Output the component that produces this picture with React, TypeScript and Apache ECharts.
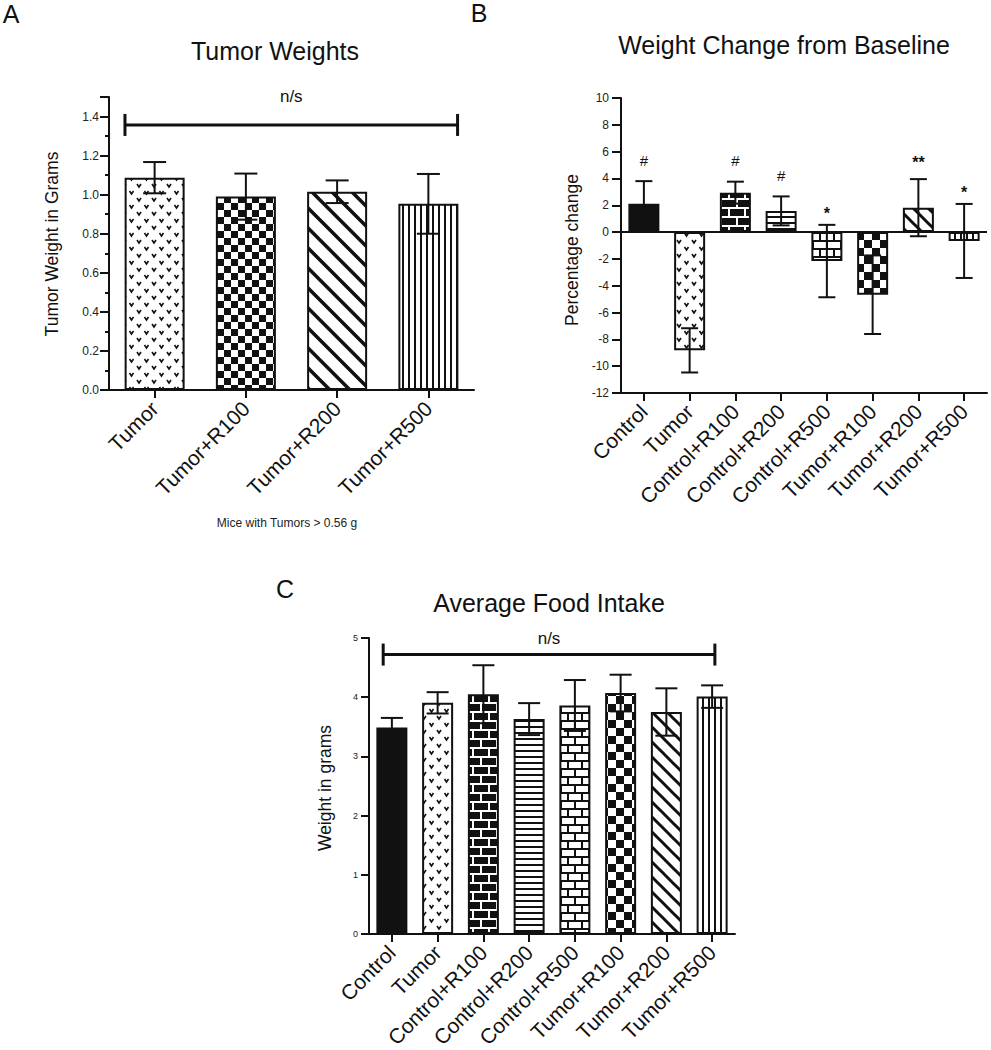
import React, { useEffect, useRef } from 'react';
import * as echarts from 'echarts';

const FONT = '"Liberation Sans", Arial, Helvetica, sans-serif';
const INK = '#111111';

// ---------- Panel A: Tumor Weights ----------
const catsA = ['Tumor', 'Tumor+R100', 'Tumor+R200', 'Tumor+R500'];
const meanA = [1.087, 0.99, 1.015, 0.953];
const semA = [0.08, 0.118, 0.058, 0.153];
const yTicksA = { min: 0, max: 1.5, major: 0.2, minor: 0.1 };

// ---------- Panel B: Weight Change from Baseline ----------
const catsBC = ['Control', 'Tumor', 'Control+R100', 'Control+R200', 'Control+R500', 'Tumor+R100', 'Tumor+R200', 'Tumor+R500'];
const meanB = [2.12, -8.82, 2.94, 1.58, -2.16, -4.67, 1.82, -0.66];
const semB = [1.68, 1.65, 0.82, 1.08, 2.7, 2.93, 2.13, 2.76];
const sigB = ['#', '', '#', '#', '*', '', '**', '*'];
const yTicksB = { min: -12, max: 10, interval: 2 };

// ---------- Panel C: Average Food Intake ----------
const meanC = [3.49, 3.905, 4.05, 3.63, 3.86, 4.07, 3.75, 4.01];
const semC = [0.16, 0.18, 0.49, 0.27, 0.43, 0.31, 0.4, 0.19];
const yTicksC = { min: 0, max: 5, interval: 1 };

// n/s bracket heights (data units)
const bracketA = 1.357;
const bracketC = 4.72;

type Pat = { image: string; repeat: string; imageWidth: number; imageHeight: number };

function tile(w: number, h: number, bg: string, draw: (ctx: CanvasRenderingContext2D) => void): Pat {
  const c = document.createElement('canvas');
  c.width = w;
  c.height = h;
  const ctx = c.getContext('2d')!;
  ctx.fillStyle = bg;
  ctx.fillRect(0, 0, w, h);
  draw(ctx);
  return { image: c.toDataURL(), repeat: 'repeat', imageWidth: w, imageHeight: h };
}

function makePatterns() {
  const vmark = (ctx: CanvasRenderingContext2D, x: number, y: number) => {
    ctx.beginPath();
    ctx.moveTo(x - 2, y - 1.5);
    ctx.lineTo(x, y + 1.5);
    ctx.lineTo(x + 2, y - 1.5);
    ctx.stroke();
  };
  const diag = (s: number, lw: number) =>
    tile(s, s, '#fff', (ctx) => {
      ctx.strokeStyle = INK;
      ctx.lineWidth = lw;
      for (const k of [-1, 0, 1]) {
        ctx.beginPath();
        ctx.moveTo(k * s - s, -s);
        ctx.lineTo(k * s + 2 * s, 2 * s);
        ctx.stroke();
      }
    });
  const brick = (bw: number, bh: number, dark: boolean) =>
    tile(bw, 2 * bh, dark ? INK : '#fff', (ctx) => {
      ctx.fillStyle = dark ? '#fff' : INK;
      const m = 2;
      ctx.fillRect(0, 0, bw, m);
      ctx.fillRect(0, bh, bw, m);
      ctx.fillRect(0, 0, m, bh);
      ctx.fillRect(bw / 2, bh, m, bh);
    });
  const checker = (c: number) =>
    tile(2 * c, 2 * c, '#fff', (ctx) => {
      ctx.fillStyle = INK;
      ctx.fillRect(0, 0, c, c);
      ctx.fillRect(c, c, c, c);
    });
  return {
    solid: INK as any,
    vdots: tile(15, 14, '#fff', (ctx) => {
      ctx.strokeStyle = INK;
      ctx.lineWidth = 1.6;
      vmark(ctx, 4, 3.5);
      vmark(ctx, 11.5, 10.5);
    }),
    checkerA: checker(7),
    checkerBC: checker(8),
    diagA: diag(20, 3.5),
    diagBC: diag(15, 3),
    vstripe: tile(6, 6, '#fff', (ctx) => {
      ctx.fillStyle = INK;
      ctx.fillRect(0, 0, 2, 6);
    }),
    hstripe: tile(6, 6, '#fff', (ctx) => {
      ctx.fillStyle = INK;
      ctx.fillRect(0, 0, 6, 2);
    }),
    brickBlack: brick(16, 9, true),
    brickWhite: brick(14, 8, false),
  };
}

function errorSeries(xi: number, yi: number, means: number[], sems: number[], capHalf: number) {
  return {
    type: 'custom',
    xAxisIndex: xi,
    yAxisIndex: yi,
    z: 5,
    silent: true,
    data: means.map((m, i) => [i, m - sems[i], m + sems[i]]),
    encode: { x: 0, y: [1, 2] },
    renderItem: (_p: any, api: any) => {
      const i = api.value(0);
      const a = api.coord([i, api.value(1)]);
      const b = api.coord([i, api.value(2)]);
      const st = { stroke: INK, lineWidth: 2 };
      return {
        type: 'group',
        children: [
          { type: 'line', shape: { x1: a[0], y1: a[1], x2: b[0], y2: b[1] }, style: st },
          { type: 'line', shape: { x1: b[0] - capHalf, y1: b[1], x2: b[0] + capHalf, y2: b[1] }, style: st },
          { type: 'line', shape: { x1: a[0] - capHalf, y1: a[1], x2: a[0] + capHalf, y2: a[1] }, style: st },
        ],
      };
    },
  };
}

function bracketSeries(xi: number, yi: number, n: number, yVal: number, fL: number, fR: number, textGap: number) {
  return {
    type: 'custom',
    xAxisIndex: xi,
    yAxisIndex: yi,
    z: 6,
    silent: true,
    data: [[0, n - 1, yVal]],
    encode: { x: [0, 1], y: 2 },
    renderItem: (_p: any, api: any) => {
      const bw = api.size([1, 0])[0];
      const p0 = api.coord([api.value(0), api.value(2)]);
      const p1 = api.coord([api.value(1), api.value(2)]);
      const x0 = p0[0] - bw * fL;
      const x1 = p1[0] + bw * fR;
      const y = p0[1];
      const st = { stroke: INK, lineWidth: 3 };
      return {
        type: 'group',
        children: [
          { type: 'line', shape: { x1: x0, y1: y, x2: x1, y2: y }, style: st },
          { type: 'line', shape: { x1: x0, y1: y - 11, x2: x0, y2: y + 11 }, style: st },
          { type: 'line', shape: { x1: x1, y1: y - 11, x2: x1, y2: y + 11 }, style: st },
          {
            type: 'text',
            x: (x0 + x1) / 2,
            y: y - textGap,
            style: {
              text: 'n/s',
              fill: INK,
              fontSize: 17,
              fontFamily: FONT,
              align: 'center',
              verticalAlign: 'middle',
              textAlign: 'center',
              textVerticalAlign: 'middle',
            },
          },
        ],
      };
    },
  };
}

function sigSeries(xi: number, yi: number) {
  return {
    type: 'custom',
    xAxisIndex: xi,
    yAxisIndex: yi,
    z: 6,
    silent: true,
    data: meanB.map((m, i) => [i, m + semB[i]]),
    encode: { x: 0, y: 1 },
    renderItem: (p: any, api: any) => {
      const t = sigB[p.dataIndex];
      if (!t) return { type: 'group', children: [] };
      const c = api.coord([api.value(0), api.value(1)]);
      const star = t.indexOf('*') >= 0;
      const gap = t === '#' ? 21 : t === '**' ? 17 : 11;
      return {
        type: 'text',
        x: c[0],
        y: c[1] - gap,
        style: {
          text: t,
          fill: INK,
          fontSize: star ? 16 : 15,
          fontWeight: star ? 'bold' : 'normal',
          fontFamily: FONT,
          align: 'center',
          verticalAlign: 'middle',
          textAlign: 'center',
          textVerticalAlign: 'middle',
        },
      };
    },
  };
}

function buildOption() {
  const P = makePatterns();
  const fillsA = [P.vdots, P.checkerA, P.diagA, P.vstripe];
  const fillsBC = [P.solid, P.vdots, P.brickBlack, P.hstripe, P.brickWhite, P.checkerBC, P.diagBC, P.vstripe];

  const axisLine = { show: true, onZero: false, lineStyle: { color: INK, width: 2 } };
  const xAxisCommon = (grid: number, data: string[]) => ({
    type: 'category',
    gridIndex: grid,
    data,
    axisLine,
    axisTick: { show: true, alignWithLabel: true, length: 8, lineStyle: { color: INK, width: 2 } },
    axisLabel: { interval: 0, rotate: 45, fontSize: 21, color: INK, fontFamily: FONT, margin: 15 },
    splitLine: { show: false },
  });

  const text = (t: string, x: number, y: number, size: number, rot = 0, extra: any = {}) => ({
    type: 'text',
    x,
    y,
    rotation: rot,
    style: {
      text: t,
      fill: INK,
      fontSize: size,
      fontFamily: FONT,
      align: 'center',
      verticalAlign: 'middle',
      textAlign: 'center',
      textVerticalAlign: 'middle',
      ...extra,
    },
  });

  const fmtA = (v: number) => (Math.round(v * 10) % 2 === 0 ? v.toFixed(1) : '');

  return {
    animation: false,
    backgroundColor: '#ffffff',
    textStyle: { fontFamily: FONT },
    grid: [
      { left: 109, top: 97, width: 365, height: 293, outerBoundsMode: 'none' },
      { left: 621, top: 98, width: 366, height: 295, outerBoundsMode: 'none' },
      { left: 369, top: 638, width: 366, height: 296, outerBoundsMode: 'none' },
    ],
    xAxis: [xAxisCommon(0, catsA), xAxisCommon(1, catsBC), xAxisCommon(2, catsBC)],
    yAxis: [
      {
        type: 'value',
        gridIndex: 0,
        position: 'left',
        min: yTicksA.min,
        max: yTicksA.max,
        interval: yTicksA.major,
        axisLine,
        axisTick: { show: true, length: 9, lineStyle: { color: INK, width: 2 } },
        axisLabel: { color: '#222', fontSize: 12, margin: 10, formatter: fmtA },
        splitLine: { show: false },
      },
      {
        type: 'value',
        gridIndex: 0,
        position: 'left',
        min: yTicksA.min,
        max: yTicksA.max,
        interval: yTicksA.minor,
        axisLine: { show: false },
        axisTick: { show: true, length: 4, lineStyle: { color: INK, width: 2 } },
        axisLabel: { show: false },
        splitLine: { show: false },
      },
      {
        type: 'value',
        gridIndex: 1,
        position: 'left',
        min: yTicksB.min,
        max: yTicksB.max,
        interval: yTicksB.interval,
        axisLine,
        axisTick: { show: true, length: 9, lineStyle: { color: INK, width: 2 } },
        axisLabel: { color: '#222', fontSize: 12, margin: 12 },
        splitLine: { show: false },
      },
      {
        type: 'value',
        gridIndex: 2,
        position: 'left',
        min: yTicksC.min,
        max: yTicksC.max,
        interval: yTicksC.interval,
        axisLine,
        axisTick: { show: true, length: 8, lineStyle: { color: INK, width: 2 } },
        axisLabel: { color: '#222', fontSize: 9, margin: 11 },
        splitLine: { show: false },
      },
    ],
    series: [
      {
        type: 'bar',
        xAxisIndex: 0,
        yAxisIndex: 0,
        barWidth: 60,
        silent: true,
        itemStyle: { borderColor: INK, borderWidth: 2 },
        data: meanA.map((v, i) => ({ value: v, itemStyle: { color: fillsA[i] } })),
      },
      errorSeries(0, 0, meanA, semA, 11.5),
      bracketSeries(0, 0, catsA.length, bracketA, 0.325, 0.32, 28),
      {
        type: 'bar',
        xAxisIndex: 1,
        yAxisIndex: 2,
        barWidth: 31,
        silent: true,
        itemStyle: { borderColor: INK, borderWidth: 2 },
        data: meanB.map((v, i) => ({ value: v, itemStyle: { color: fillsBC[i] } })),
        markLine: {
          silent: true,
          symbol: ['none', 'none'],
          label: { show: false },
          lineStyle: { color: INK, width: 2, type: 'solid' },
          data: [{ yAxis: 0 }],
        },
      },
      errorSeries(1, 2, meanB, semB, 8.5),
      sigSeries(1, 2),
      {
        type: 'bar',
        xAxisIndex: 2,
        yAxisIndex: 3,
        barWidth: 31,
        silent: true,
        itemStyle: { borderColor: INK, borderWidth: 2 },
        data: meanC.map((v, i) => ({ value: v, itemStyle: { color: fillsBC[i] } })),
      },
      errorSeries(2, 3, meanC, semC, 11),
      bracketSeries(2, 3, catsBC.length, bracketC, 0.19, 0.06, 16),
    ],
    graphic: [
      text('A', 11, 14, 25),
      text('B', 479, 13, 25),
      text('C', 285, 589, 25),
      text('Tumor Weights', 275, 51, 25),
      text('Weight Change from Baseline', 784, 45, 25),
      text('Average Food Intake', 549, 603, 25),
      text('Tumor Weight in Grams', 52, 244, 17.5, Math.PI / 2),
      text('Percentage change', 572, 250, 17.5, Math.PI / 2),
      text('Weight in grams', 325, 788, 17.5, Math.PI / 2),
      text('Mice with Tumors > 0.56 g', 287, 523, 12, 0, { fill: '#222' }),
    ],
  };
}

export default function App() {
  const ref = useRef<HTMLDivElement>(null);
  useEffect(() => {
    if (!ref.current) return;
    const chart = echarts.init(ref.current, null, { renderer: 'svg', width: 991, height: 1050 });
    chart.setOption(buildOption() as any);
    return () => chart.dispose();
  }, []);
  return (
    <div
      ref={ref}
      style={{ position: 'fixed', left: 0, top: 0, width: 991, height: 1050, background: '#fff' }}
    />
  );
}
